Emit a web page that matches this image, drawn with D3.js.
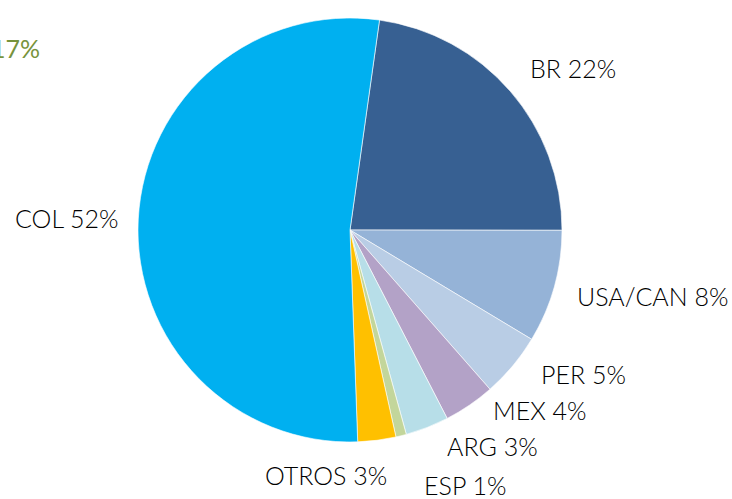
<!DOCTYPE html>
<html>
<head>
<meta charset="utf-8">
<script src="https://cdn.jsdelivr.net/npm/d3@7"></script>
<style>
  body { margin: 0; background: #fff; }
  text { font-family: Lato, "Open Sans", sans-serif; font-weight: 300; }
</style>
</head>
<body>
<script>
// data (share of total, %)
var categories = ['BR', 'USA/CAN', 'PER', 'MEX', 'ARG', 'ESP', 'OTROS', 'COL'];
var values = [22.8, 8.6, 4.9, 3.9, 3.3, 0.8, 2.9, 52.8];
var labels = ['BR 22%', 'USA/CAN 8%', 'PER 5%', 'MEX 4%', 'ARG 3%', 'ESP 1%', 'OTROS 3%', 'COL 52%'];
var colors = ['#376092', '#95b3d7', '#b9cde5', '#b3a2c7', '#b7dee8', '#c3d69b', '#ffc000', '#00b0f0'];

var width = 732, height = 499,
    cx = 350, cy = 230, radius = 212,
    startDeg = 8;

// label anchor points (x, y of text start)
var labelPos = [[530, 78], [577, 306], [541, 384], [493, 420], [447, 456], [424, 495], [265, 485], [15, 228]];

var svg = d3.select('body')
  .append('svg')
    .attr('width', width)
    .attr('height', height);

var pie = d3.pie()
  .sort(null)
  .startAngle(startDeg * Math.PI / 180)
  .endAngle((startDeg + 360) * Math.PI / 180);

var arc = d3.arc().innerRadius(0).outerRadius(radius);

var g = svg.append('g')
  .attr('transform', 'translate(' + cx + ',' + cy + ')');

g.selectAll('path')
  .data(pie(values))
  .enter().append('path')
    .attr('d', arc)
    .attr('fill', function (d, i) { return colors[i]; })
    .attr('stroke', '#fff')
    .attr('stroke-width', 0.6);

svg.selectAll('text.lbl')
  .data(labels)
  .enter().append('text')
    .attr('class', 'lbl')
    .attr('x', function (d, i) { return labelPos[i][0]; })
    .attr('y', function (d, i) { return labelPos[i][1]; })
    .attr('font-size', 25)
    .attr('fill', '#000')
    .text(function (d) { return d; });

// stray label cut off at the left edge
svg.append('text')
  .attr('x', 40)
  .attr('y', 58)
  .attr('text-anchor', 'end')
  .attr('font-size', 25)
  .style('font-weight', 400)
  .attr('fill', '#77933c')
  .text('17%');
</script>
</body>
</html>
